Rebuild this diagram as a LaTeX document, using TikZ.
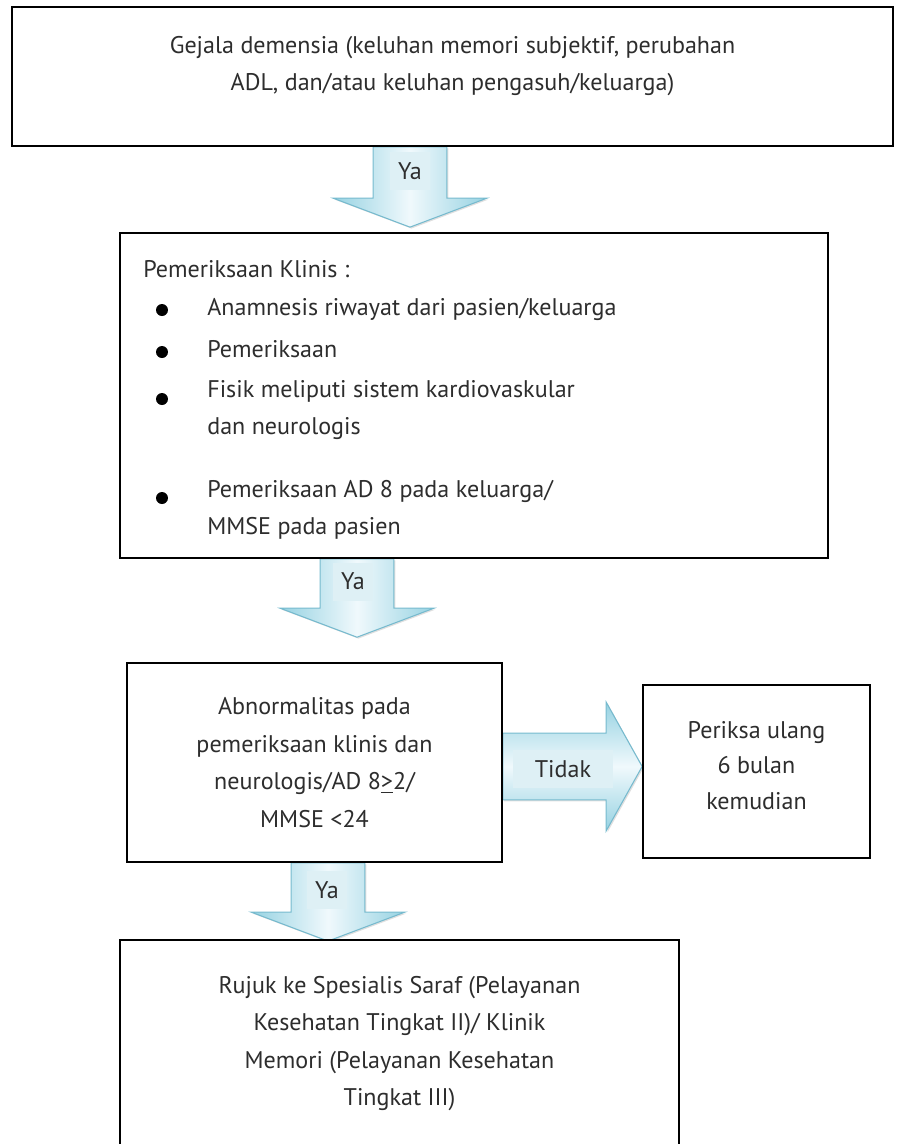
\documentclass[tikz,border=0pt]{standalone}
\usepackage{fontspec}
\setmainfont{PT Sans}
\usetikzlibrary{positioning, calc, shadows, backgrounds}
\definecolor{arrowblue}{RGB}{150,210,226}
\definecolor{arrowedge}{RGB}{118,186,206}
\definecolor{arrowlight}{RGB}{240,249,252}
\definecolor{tagfill}{RGB}{222,240,245}
\definecolor{textgrey}{RGB}{45,45,45}

\tikzset{
    txt/.style={font=\fontsize{13.7}{21.3}\selectfont, text=textgrey, inner sep=0pt},
    box/.style={txt, draw=black, line width=1pt, fill=white, align=center,
        drop shadow={shadow xshift=0.6pt, shadow yshift=-0.6pt, fill=black!55, opacity=1}},
    tag/.style={txt, fill=tagfill, minimum height=0.76cm},
    arrowdown/.style={draw=arrowedge, line width=0.6pt, left color=arrowblue,
        right color=arrowblue, middle color=arrowlight,
        drop shadow={shadow xshift=0.8pt, shadow yshift=-0.8pt, opacity=0.25}},
    arrowright/.style={draw=arrowedge, line width=0.6pt, top color=arrowblue,
        bottom color=arrowblue, middle color=arrowlight,
        drop shadow={shadow xshift=0.8pt, shadow yshift=-0.8pt, opacity=0.25}},
}

% block arrow pointing down: shaft centre x, upper box, lower box, gap above lower box
\newcommand{\blockdown}[4]{%
    \path[arrowdown] let \p1=(#1,0), \p2=(#2.south), \p3=(#3.north) in
        (\x1-21pt,\y2) -- (\x1-21pt,\y3+#4+16.5pt) -- (\x1-43.8pt,\y3+#4+16.5pt)
        -- (\x1,\y3+#4) -- (\x1+43.8pt,\y3+#4+16.5pt) -- (\x1+21pt,\y3+#4+16.5pt)
        -- (\x1+21pt,\y2) -- cycle;
}

\begin{document}
\begin{tikzpicture}[x=0.02cm, y=-0.02cm]
    \clip (0,0) rectangle (903,1144);

    % boxes
    \node[box, minimum width=17.62cm, minimum height=2.78cm] (gejala) at (452.5,76.5) {};
    \node[txt, align=center] (gejalatext) at (452.5,66)
        {Gejala demensia (keluhan memori subjektif, perubahan\\ADL, dan/atau keluhan pengasuh/keluarga)};

    \node[box, minimum width=14.16cm, minimum height=6.5cm] (klinis) at (474,395.5) {};
    \node[txt, anchor=base west] (klinisjudul) at (143,277) {Pemeriksaan Klinis :};
    \node[txt, anchor=base west] (itemA) at (207,315) {Anamnesis riwayat dari pasien/keluarga};
    \node[txt, anchor=base west] (itemB) at (207,357) {Pemeriksaan};
    \node[txt, anchor=base west] (itemC) at (207,397) {Fisik meliputi sistem kardiovaskular};
    \node[txt, anchor=base west] (itemCc) at (207,434) {dan neurologis};
    \node[txt, anchor=base west] (itemD) at (207,497) {Pemeriksaan AD 8 pada keluarga/};
    \node[txt, anchor=base west] (itemDd) at (207,534) {MMSE pada pasien};
    \foreach \y in {310,352,399,498}
        \fill[black] (162,\y) circle[radius=0.12cm];

    \node[box, minimum width=7.5cm, minimum height=3.98cm] (abnormal) at (314.5,762.5)
        {Abnormalitas pada\\pemeriksaan klinis dan\\neurologis/AD 8\underline{>}2/\\MMSE <24};

    \node[box, minimum width=4.54cm, minimum height=3.46cm] (ulang) at (756.5,771.5) {};
    \node[txt, align=center, font=\fontsize{13.7}{20.2}\selectfont] (ulangtext) at (756.5,765.5)
        {Periksa ulang\\6 bulan\\kemudian};

    \node[box, minimum width=11.18cm, minimum height=4.14cm] (rujuk) at (399.5,1043.5)
        {Rujuk ke Spesialis Saraf (Pelayanan\\Kesehatan Tingkat II)/ Klinik\\Memori (Pelayanan Kesehatan\\Tingkat III)};

    % block arrows
    \begin{scope}[on background layer]
        \blockdown{410}{gejala}{klinis}{2.85pt}
        \blockdown{357}{klinis}{abnormal}{14.2pt}
        \blockdown{328}{abnormal}{rujuk}{-1.1pt}
        \path[arrowright] let \p1=(0,766.5), \p2=(abnormal.east), \p3=(ulang.west) in
            (\x2,\y1+19pt) -- (\x3-20.5pt,\y1+19pt) -- (\x3-20.5pt,\y1+36.7pt)
            -- (\x3,\y1) -- (\x3-20.5pt,\y1-36.7pt) -- (\x3-20.5pt,\y1-19pt)
            -- (\x2,\y1-19pt) -- cycle;
    \end{scope}

    % arrow labels
    \node[tag, minimum width=0.8cm] (yaA) at (410,171) {Ya};
    \node[tag, minimum width=0.8cm] (yaB) at (353,581.5) {Ya};
    \node[tag, minimum width=0.8cm] (yaC) at (327,890) {Ya};
    \node[tag, minimum width=2cm] (tidak) at (563,769) {Tidak};
\end{tikzpicture}
\end{document}
